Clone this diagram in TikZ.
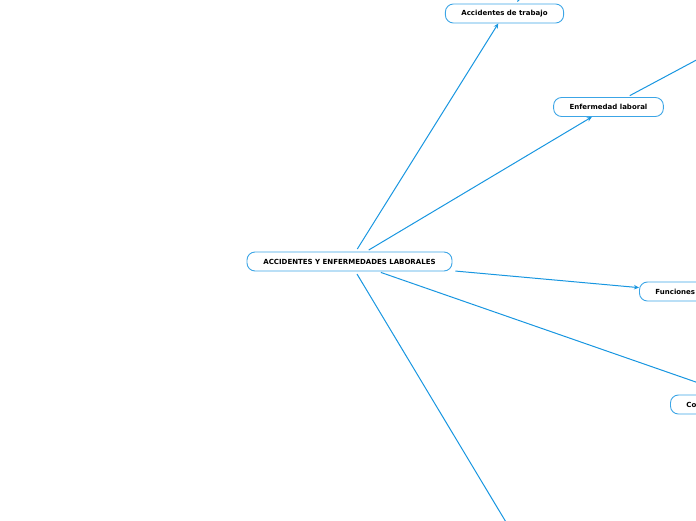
\documentclass[tikz,border=0pt]{standalone}
\usepackage{fontspec}
\setmainfont{DejaVu Sans}
\usetikzlibrary{arrows.meta}
\definecolor{linkblue}{RGB}{24,150,224}
\definecolor{boxblue}{RGB}{60,165,230}
\begin{document}
\begin{tikzpicture}[x=1pt, y=-1pt,
    topic/.style={draw=boxblue, fill=white, rounded corners=8pt, line width=0.9pt,
        minimum height=19pt, inner xsep=16pt, font=\bfseries\fontsize{7}{8}\selectfont},
    link/.style={draw=linkblue, line width=1pt, shorten <=3pt},
    linkarrow/.style={link, -{Stealth[length=5pt,width=4.5pt]}}
  ]
  \useasboundingbox (0,0) rectangle (696,520);
  \clip (0,0) rectangle (696,520);
  % topics
  \node[topic, minimum width=205pt] (main) at (349.5,261.5) {ACCIDENTES Y ENFERMEDADES LABORALES};
  \node[topic, minimum width=117pt] (accidentes) at (504.5,13.5) {Accidentes de trabajo};
  \node[topic, minimum width=109pt] (enfermedad) at (608.5,107) {Enfermedad laboral};
  \node[topic, anchor=west, text width=53pt, align=left] (funciones) at (639,291.5) {Funciones};
  \node[topic, anchor=west, text width=148pt, align=left] (consec) at (670,404.5) {Consecuencias};
  % ends outside the frame
  \coordinate (accup) at (577,-54);
  \coordinate (enfup) at (760,26);
  \coordinate (down) at (560,612);
  % links
  \draw[linkarrow] (main) -- (accidentes);
  \draw[linkarrow] (main) -- (enfermedad);
  \draw[linkarrow] (main) -- (funciones);
  \draw[linkarrow] (main) -- (consec);
  \draw[link] (main) -- (down);
  \draw[link] (enfermedad) -- (enfup);
  \draw[link] (accidentes) -- (accup);
\end{tikzpicture}
\end{document}
